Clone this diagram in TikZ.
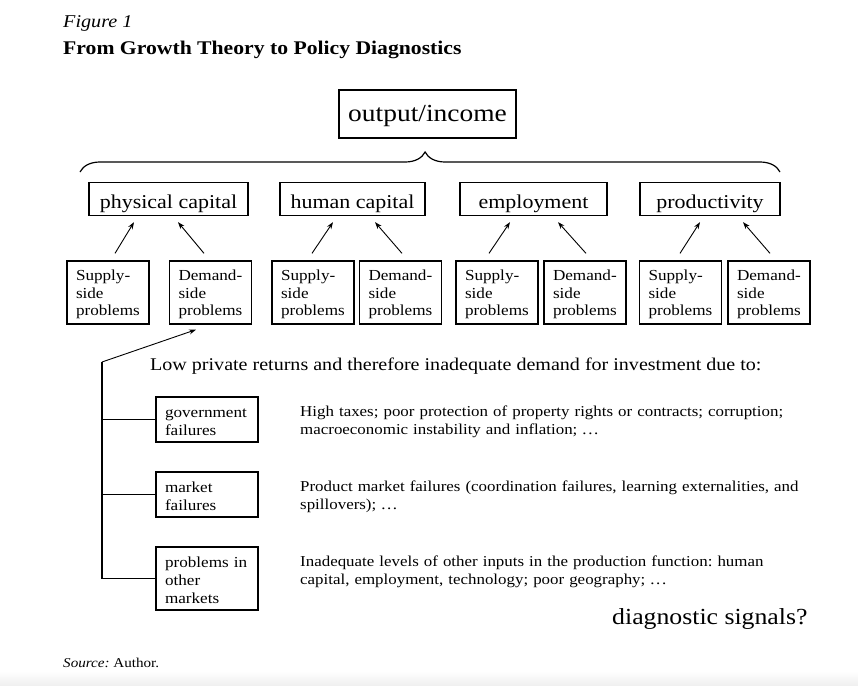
\documentclass[tikz,border=0pt]{standalone}
\usepackage{fontspec}
\setmainfont{Liberation Serif}[FakeStretch=1.12]
\usetikzlibrary{arrows.meta,decorations.pathreplacing}
\newcommand\spdots{.\kern1.6pt.\kern1.6pt.}
\frenchspacing
\begin{document}
\begin{tikzpicture}[x=1pt,y=-1pt,
  box/.style={draw, line width=1.3pt, inner sep=0pt},
  lbox/.style={box, minimum height=33pt, text height=20pt, text depth=2pt, font=\fontsize{19.6}{22}\selectfont},
  sbox/.style={box, minimum height=63pt, text width=64pt, text height=14.5pt, inner xsep=9pt, align=left, font=\fontsize{15.3}{17.6}\selectfont},
  fbox/.style={box, text width=84pt, text height=14pt, inner xsep=9pt, align=left, font=\fontsize{15.3}{17.6}\selectfont},
  desc/.style={anchor=base west, text width=520pt, inner sep=0pt, align=left, font=\fontsize{15.1}{18}\selectfont},
  arr/.style={-{Stealth[length=7pt,width=5pt]}, line width=0.9pt},
  tree/.style={line width=1.3pt}]
\useasboundingbox (0,0) rectangle (858,685);
\shade[top color=white, bottom color=gray!12] (0,671) rectangle (858,685);
% titles
\node[anchor=base west, inner sep=0pt, font=\fontsize{18}{20}\selectfont\itshape] (fig) at (63,28) {Figure 1};
\node[anchor=base west, inner sep=0pt, font=\fontsize{19.35}{22}\selectfont\bfseries] (ttl) at (63,55) {From Growth Theory to Policy Diagnostics};
% top box
\node[box, minimum width=177pt, minimum height=48pt, text height=18.4pt, text depth=3pt, font=\fontsize{24.5}{26}\selectfont] (out) at (427.5,114) {output/income};
% brace
\coordinate (bl) at (80,172);
\coordinate (br) at (780,172);
\draw[line width=1.2pt, decorate, decoration={brace, amplitude=20pt, aspect=0.493}] (bl) -- (br);
% level boxes
\node[lbox, minimum width=159pt] (pc) at (168.5,199) {physical capital};
\node[lbox, minimum width=145pt] (hc) at (352.5,199) {human capital};
\node[lbox, minimum width=147pt] (em) at (533.5,199) {employment};
\node[lbox, minimum width=140pt] (pr) at (710,199) {productivity};
% small boxes
\node[sbox] (s1) at (108,292.5) {Supply-\\side\\problems};
\node[sbox] (s2) at (210.5,292.5) {Demand-\\side\\problems};
\node[sbox] (s3) at (313,292.5) {Supply-\\side\\problems};
\node[sbox] (s4) at (400.5,292.5) {Demand-\\side\\problems};
\node[sbox] (s5) at (497,292.5) {Supply-\\side\\problems};
\node[sbox] (s6) at (585,292.5) {Demand-\\side\\problems};
\node[sbox] (s7) at (680.5,292.5) {Supply-\\side\\problems};
\node[sbox] (s8) at (769,292.5) {Demand-\\side\\problems};
% arrows
\draw[arr] ([xshift=7pt,yshift=7pt]s1.north) -- ([xshift=-34.5pt,yshift=-6pt]pc.south);
\draw[arr] ([xshift=-6.5pt,yshift=7pt]s2.north) -- ([xshift=9.5pt,yshift=-6pt]pc.south);
\draw[arr] ([xshift=-1pt,yshift=7pt]s3.north) -- ([xshift=-19.5pt,yshift=-6pt]hc.south);
\draw[arr] ([xshift=1.5pt,yshift=7pt]s4.north) -- ([xshift=22.5pt,yshift=-6pt]hc.south);
\draw[arr] ([xshift=-8pt,yshift=7pt]s5.north) -- ([xshift=-23.5pt,yshift=-6pt]em.south);
\draw[arr] ([xshift=1pt,yshift=7pt]s6.north) -- ([xshift=24.5pt,yshift=-6pt]em.south);
\draw[arr] ([xshift=-0.5pt,yshift=7pt]s7.north) -- ([xshift=-10pt,yshift=-6pt]pr.south);
\draw[arr] ([xshift=1pt,yshift=7pt]s8.north) -- ([xshift=33pt,yshift=-6pt]pr.south);
% lower part
\node[anchor=base west, inner sep=0pt, font=\fontsize{17.9}{20}\selectfont] (low) at (150,370) {Low private returns and therefore inadequate demand for investment due to:};
\node[fbox, minimum height=45pt] (gf) at (207,419.5) {government\\failures};
\node[fbox, minimum height=45pt] (mf) at (207,494.5) {market\\failures};
\node[fbox, minimum height=63pt] (pm) at (207,578.5) {problems in\\other\\markets};
\coordinate (top) at (102,362);
\draw[arr] (top) -- ([xshift=-14.5pt,yshift=-5pt]s2.south);
\draw[tree] (top) |- (pm.west);
\draw[tree] (top |- gf.west) -- (gf.west);
\draw[tree] (top |- mf.west) -- (mf.west);
\node[desc] (d1) at (300,416) {High taxes; poor protection of property rights or contracts; corruption;\\macroeconomic instability and inflation; \spdots};
\node[desc] (d2) at (300,491) {Product market failures (coordination failures, learning externalities, and\\spillovers); \spdots};
\node[desc] (d3) at (300,566) {Inadequate levels of other inputs in the production function: human\\capital, employment, technology; poor geography; \spdots};
\node[anchor=base west, inner sep=0pt, font=\fontsize{23}{26}\selectfont] (diag) at (612,624) {diagnostic signals?};
\node[anchor=base west, inner sep=0pt, font=\fontsize{13.5}{16}\selectfont] (src) at (63,667) {\textit{Source:} Author.};
\end{tikzpicture}
\end{document}
